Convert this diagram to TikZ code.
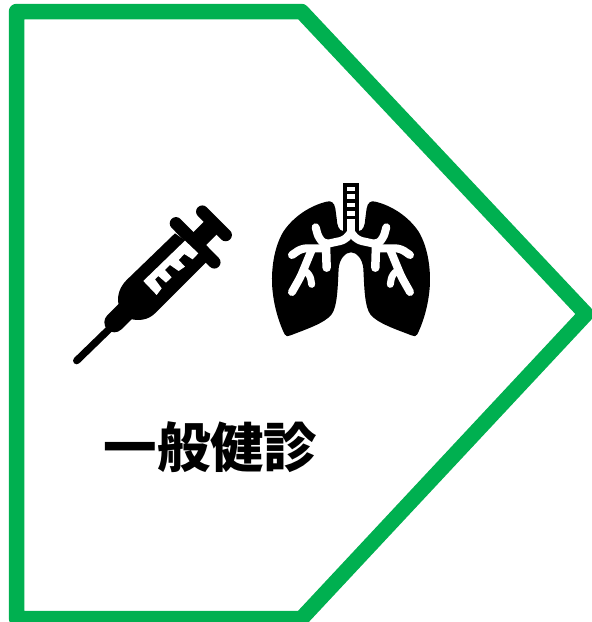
\documentclass[tikz,border=0pt]{standalone}
\usepackage{fontspec}
\newfontfamily\cjk{Noto Sans CJK JP}
\definecolor{framegreen}{HTML}{00B050}
\tikzset{
  frameline/.style={draw=framegreen,line width=15.5pt,line join=round},
  syr/.style={line width=#1,line cap=round,black},
  bron/.style={draw=white,line width=#1,line cap=round,line join=round,rounded corners=5pt},
  lbl/.style={font=\cjk\bfseries\fontsize{53.5}{53.5}\selectfont,text=black,inner sep=0pt,anchor=center}
}
\begin{document}
\begin{tikzpicture}[x=1pt,y=-1pt]
\useasboundingbox (0,0) rectangle (592,622);
\fill[white] (0,0) rectangle (592,622);
\begin{scope}
\clip (0,0) rectangle (592,622);
\draw[frameline] (16.5,11.5) -- (301.5,11.5) -- (586,314) -- (301.5,618.5) -- (16.5,618.5) -- cycle;
\end{scope}
% syringe
\begin{scope}[xshift=60pt,yshift=-190pt,x=0.3333pt,y=-0.3333pt]
\draw[syr=7.3pt] (50,512) -- (150,415);
\draw[syr=20pt] (163,397) -- (195,365);
\fill[black] (200,270) -- (345,130) -- (450,205) -- (285,370) .. controls (265,390) and (235,395) .. (205,385) .. controls (170,365) and (160,310) .. (200,270) -- cycle;
\draw[syr=12.5pt] (348,100) -- (463,217);
\draw[line width=18pt,black] (400,165) -- (465,100);
\draw[syr=12.5pt] (427,65) -- (497,135);
\fill[white] (250,273) -- (375,152) -- (415,190) -- (398,208) -- (373,192) -- (356,210) -- (375,230) -- (356,243) -- (330,225) -- (315,240) -- (335,262) -- (318,278) -- (295,258) -- (285,268) -- (305,295) -- (290,315) -- cycle;
\end{scope}
% lungs
\begin{scope}[xshift=260pt,yshift=-175pt,x=0.3333pt,y=-0.3333pt]
\foreach \s/\o in {1/0,-1/546}{
\begin{scope}[shift={(\o,0)},xscale=\s]
\fill[black] (273,155) -- (250,168) .. controls (236,168) and (231,150) .. (230,130) -- (226,100) .. controls (223,82) and (212,76) .. (200,80) .. controls (150,92) and (100,125) .. (70,170) .. controls (40,220) and (33,290) .. (37,340) .. controls (42,400) and (60,450) .. (74,478) .. controls (77,485) and (84,485) .. (92,481) .. controls (132,465) and (195,445) .. (215,418) .. controls (232,395) and (233,340) .. (236,280) .. controls (239,250) and (257,232) .. (273,232) -- cycle;
\draw[black,line width=3.5pt] (255,25) -- (255,168);
\draw[bron=8pt] (273,172) -- (255,195) -- (195,208) -- (176,190) -- (167,157);
\draw[bron=8.5pt] (198,212) -- (200,278);
\draw[bron=8pt] (188,220) -- (125,220) -- (96,240);
\draw[bron=8pt] (155,225) -- (122,305) -- (96,351);
\draw[bron=7pt] (130,285) -- (150,298) -- (155,328);
\end{scope}}
\fill[white] (260,25) rectangle (286,172);
\foreach \yy in {25,47,72,97,122}{\fill[black] (250,\yy) rectangle (296,\yy+11);}
\end{scope}
\node[lbl] (title) at (210.5,447) {一般健診};
\end{tikzpicture}
\end{document}
